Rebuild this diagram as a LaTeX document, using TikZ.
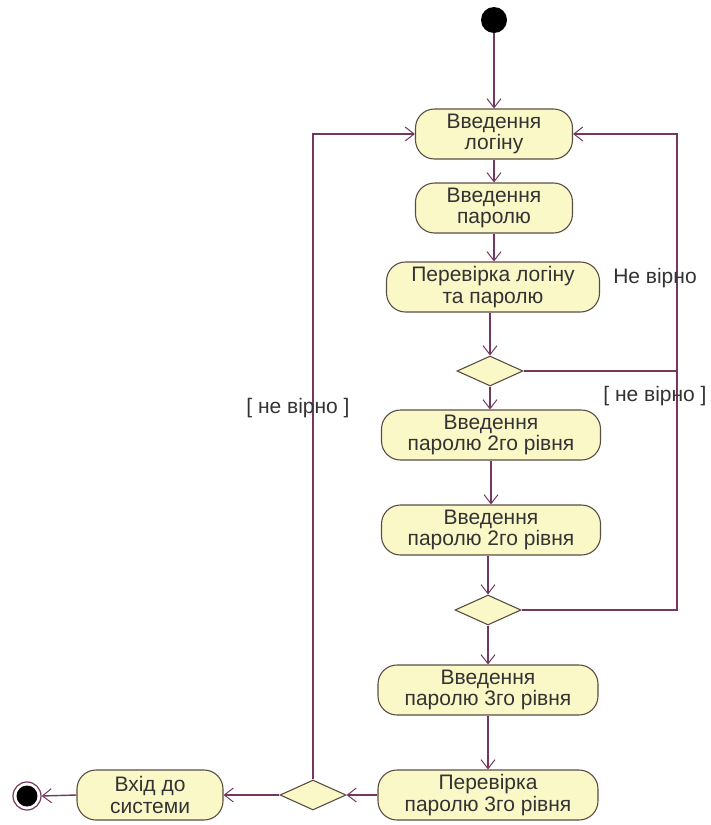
\documentclass[tikz,border=0pt]{standalone}
\usepackage{fontspec}
\setmainfont{Liberation Sans}
\usetikzlibrary{shapes.geometric,arrows.meta}

\definecolor{flowline}{HTML}{74385F}
\definecolor{actfill}{HTML}{FBF8C8}
\definecolor{actborder}{HTML}{5A4E44}
\definecolor{labeltext}{HTML}{333333}

\tikzset{
  act/.style={draw=actborder, line width=1.1pt, fill=actfill, rounded corners=19pt,
    minimum height=50pt, align=center, inner sep=0pt, text=labeltext,
    font=\fontsize{21}{21.5}\selectfont},
  decision/.style={draw=actborder, line width=1.1pt, fill=actfill, diamond,
    minimum width=66pt, minimum height=30pt, inner sep=0pt},
  flow/.style={draw=flowline, line width=1.4pt,
    -{Straight Barb[length=9pt,width=14pt,line width=1pt]}},
  plainflow/.style={draw=flowline, line width=1.4pt},
  guard/.style={text=labeltext, font=\fontsize{21}{21.5}\selectfont, inner sep=0pt},
}

\begin{document}
\begin{tikzpicture}[x=1pt,y=-1pt]
  \useasboundingbox (0,0) rectangle (711,825);

  % start and end markers
  \node[circle, fill=black, minimum size=26pt, inner sep=0pt] (start) at (494,20) {};
  \node[circle, draw=flowline, line width=1.2pt, fill=white, minimum size=28pt, inner sep=0pt] (finish) at (27,796) {};
  \node[circle, fill=black, minimum size=21pt, inner sep=0pt] (finishdot) at (finish) {};

  % activities
  \node[act, minimum width=157pt] (n1) at (494,134) {Введення\\логіну};
  \node[act, minimum width=157pt] (n2) at (494,208) {Введення\\паролю};
  \node[act, minimum width=213pt] (n3) at (493,287) {Перевірка логіну\\та паролю};
  \node[decision] (d1) at (490,371) {};
  \node[act, minimum width=219pt] (n4) at (491,435) {Введення\\паролю 2го рівня};
  \node[act, minimum width=219pt] (n5) at (491,530) {Введення\\паролю 2го рівня};
  \node[decision] (d2) at (488,610) {};
  \node[act, minimum width=220pt] (n6) at (488,690) {Введення\\паролю 3го рівня};
  \node[act, minimum width=220pt] (n7) at (488,795) {Перевірка\\паролю 3го рівня};
  \node[decision] (d3) at (313,795) {};
  \node[act, minimum width=146pt] (n8) at (150,795) {Вхід до\\системи};

  % loop corners
  \coordinate (rloop) at (677,134);
  \coordinate (lloop) at (313,134);

  % main flow
  \draw[flow] (start) -- (start |- n1.north);
  \draw[flow] (n1.south) -- (n2.north);
  \draw[flow] (n2.south) -- (n2.south |- n3.north);
  \draw[flow] (n3.south -| d1.north) -- (d1.north);
  \draw[flow] (d1.south) -- (d1.south |- n4.north);
  \draw[flow] (n4.south) -- (n5.north);
  \draw[flow] (n5.south -| d2.north) -- (d2.north);
  \draw[flow] (d2.south) -- (n6.north);
  \draw[flow] (n6.south) -- (n7.north);
  \draw[flow] (n7.west) -- (d3.east);
  \draw[flow] (d3.west) -- (n8.east);
  \draw[flow] (n8.west) -- (finish.east);

  % back edges
  \draw[flow] (d1.east) -| (rloop) -- (n1.east);
  \draw[plainflow] (d2.east) -| (rloop);
  \draw[flow] (d3.north) -- (lloop) -- (n1.west);

  % guards
  \node[guard] (g1) at (655,278) {Не вірно};
  \node[guard] (g2) at (655,396) {[ не вірно ]};
  \node[guard] (g3) at (298,408) {[ не вірно ]};
\end{tikzpicture}
\end{document}
